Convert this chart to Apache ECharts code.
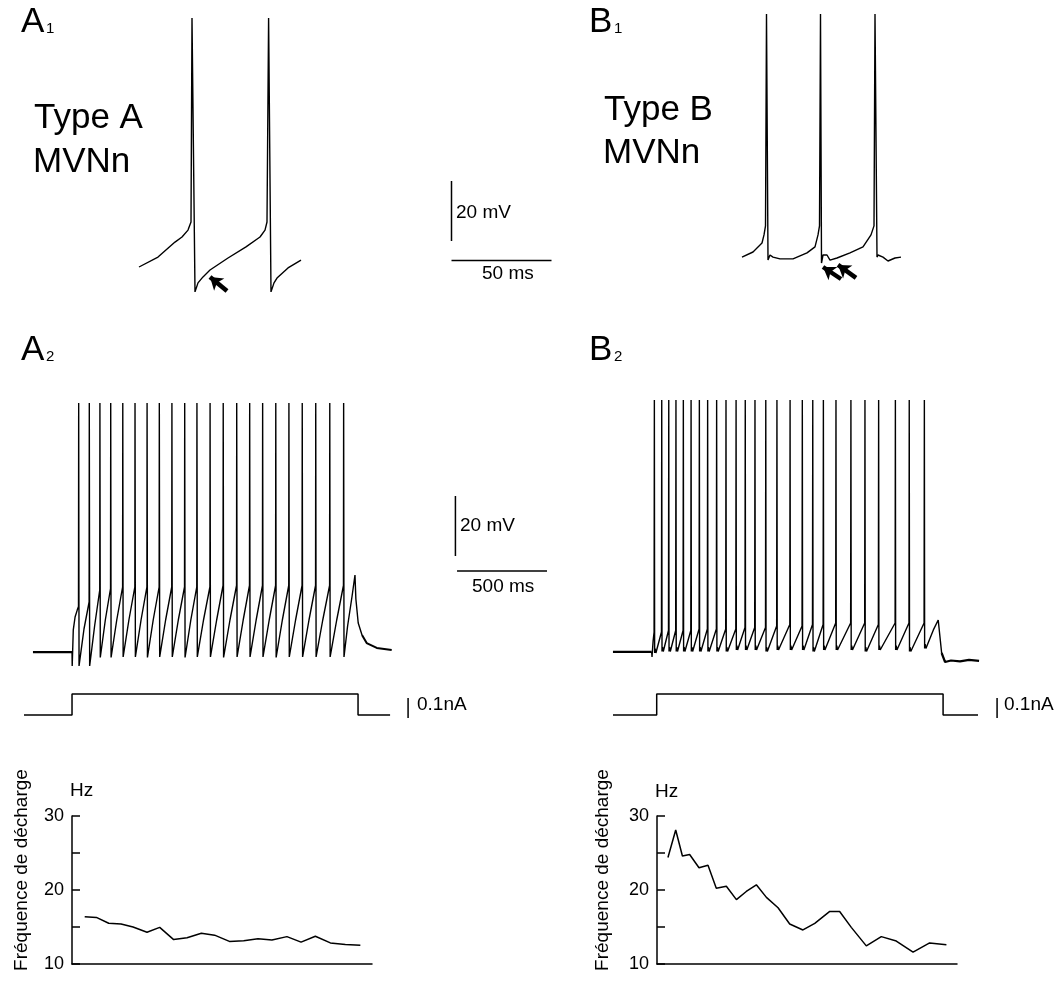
<!DOCTYPE html>
<html><head><meta charset="utf-8">
<script src="https://cdn.jsdelivr.net/npm/echarts/dist/echarts.min.js"></script>
<style>html,body{margin:0;padding:0;background:#fff}#c{width:1063px;height:982px}</style>
</head><body><div id="c"></div>
<script>
// ===== DATA (ms, mV, nA, Hz) =====
// A1 / B1 : single traces (ms, mV)
const a1Trace = [[19.5,-54],[29,-50.7],[37.5,-45.7],[41,-44],[44,-41.7],[45.5,-39],[46,29],[47.5,-62.3],[49,-59.3],[51.5,-57.3],[55,-55],[64,-51],[73,-47.3],[80,-44],[82.5,-41.7],[83.5,-39],[84.3,29],[85.5,-62.3],[87,-59.3],[88.5,-57.7],[94,-54.3],[100.5,-51.7]];
const a1Arrow = [[63.5,-62],[55,-57.3]];
const b1Trace = [[21,-50.7],[26.5,-49],[31,-46],[32,-43.3],[32.75,-40.3],[33.25,30.3],[34,-51.7],[35,-50],[36.5,-50.7],[40,-51.3],[46.5,-51.3],[53.5,-49.3],[57.5,-47.3],[59,-43.3],[59.75,-40.3],[60.25,30.3],[60.75,-52.7],[61.5,-50],[63.5,-50],[65,-51.7],[68.5,-51],[75,-49.3],[81.5,-47.3],[85.5,-43.3],[87,-40.3],[87.5,30.3],[88.5,-50.7],[89,-50],[91.5,-50.7],[94,-52],[97.5,-51],[100.5,-50.7]];
const b1Arrows = [[[70.5,-58],[61.5,-54]],[[78,-57.6],[69,-53.3]]];

// A2 : spike train
const a2Pre = [[72,-55.7],[289,-55.7]];
const a2Onset = [[289,-55.7],[290,-60.3],[296,-48.3],[306,-44],[318,-41.7]];
const a2Spikes = [326,385,444,504,571,639,706,774,844,915,983,1056,1129,1204,1276,1348,1421,1494,1568,1643,1721,1798];
const a2Knee = [-40.5,-39,-35,-34.5,-34,-34,-34,-34,-34,-34,-34,-34,-33.5,-33.5,-33.5,-33.5,-33.5,-33.5,-33.5,-33.5,-33.5,-33.5];
const a2Trough = [-60.3,-60.3,-57.5,-57.5,-57.3,-57.3,-57.5,-57.3,-57.3,-57.5,-57.3,-57.3,-57.5,-57.3,-57.3,-57.3,-57.5,-57.3,-57.3,-57.3,-57.3,-57.3];
const a2Mid = [-48,-47,-45,-45,-45,-45,-45,-45,-45,-45,-45,-45,-45,-45,-45,-45,-45,-45,-45,-45,-45];
const a2Peak = 27.3;
const a2Post = [[1820,-47],[1845,-37],[1861,-30],[1866,-38],[1879,-46],[1900,-50]];
const a2Tail = [[1900,-50],[1926,-52.7],[1982,-54.3],[2065,-55]];

// B2 : spike train
const b2Pre = [[72,-55.6],[287,-55.6]];
const b2Onset = [[287,-55.6],[289,-57.3],[295,-52]];
const b2Spikes = [302,343,382,422,463,506,552,598,648,700,756,807,861,921,983,1056,1124,1182,1241,1311,1394,1472,1548,1641,1718,1802];
const b2Knee = [-49,-49,-48.5,-48.5,-48.5,-48.5,-48,-48,-48,-48,-48,-47.5,-47.5,-47.5,-47,-46.5,-47,-46.5,-46.5,-46,-46,-46,-46.5,-46,-46,-46];
const b2Trough = [-56,-55.5,-55.5,-55.5,-55.5,-55.5,-55.5,-55.5,-55.5,-55.5,-55,-55,-55,-55.5,-55,-55,-55,-55.5,-55,-55,-55,-55.5,-55,-55,-55.5,-54.5];
const b2Adp = [-54.5,-54,-54,-54,-54,-54,-54,-54,-54,-54,-53.5,-53.5,-53.5,-54,-53.5,-53.5,-53.5,-54,-53.5,-53.5,-53.5,-54,-53.5,-53.5,-54,-53];
const b2Peak = 28.3;
const b2Post = [[1852,-48.3],[1879,-45],[1898,-56]];
const b2Tail = [[1898,-56],[1917,-59],[1950,-58.5],[2000,-58.8],[2050,-58.3],[2106,-58.6]];

// current steps (ms, nA)
const curA = [[22,0],[289,0],[289,0.105],[1878,0.105],[1878,0],[2056,0]];
const curB = [[72,0],[315,0],[315,0.105],[1906,0.105],[1906,0],[2100,0]];

// discharge frequency (ms, Hz)
const freqATime = [72,138,208,278,346,425,497,576,652,733,808,892,973,1054,1133,1218,1298,1379,1464,1549,1634];
const freqA = [16.4,16.3,15.5,15.4,15.0,14.3,14.95,13.3,13.55,14.15,13.9,13.05,13.15,13.4,13.25,13.7,12.95,13.75,12.85,12.65,12.55];
const freqBTime = [62,106,144,185,238,289,336,393,450,506,563,620,686,752,827,894,979,1035,1101,1186,1271,1356,1451,1545,1640];
const freqB = [24.4,28.1,24.6,24.8,23.0,23.35,20.25,20.5,18.7,19.8,20.7,19.0,17.6,15.4,14.6,15.5,17.1,17.1,14.95,12.45,13.7,13.1,11.6,12.85,12.6];
const freqTicks = [10,20,30];

// scale bars
const scaleA1 = {t:175.75, v:-45.3, mV:20, ms:50, vh:-51.8};
const scaleA2 = {t:2419, v:-23.7, mV:20, ms:500, vh:-28.7};
const barNA = 0.1;

// ===== BUILD =====
function trainA(onset, spikes, knees, troughs, mids, peak, post){
  const pts = onset.map(p=>p.slice());
  spikes.forEach((t,i)=>{
    pts.push([t-1,knees[i]],[t,peak],[t+2,troughs[i]]);
    if(i<spikes.length-1) pts.push([(t+spikes[i+1])/2, mids[i]]);
  });
  return pts.concat(post);
}
function trainB(onset, spikes, knees, troughs, adps, peak, post){
  const pts = onset.map(p=>p.slice());
  spikes.forEach((t,i)=>{
    pts.push([t-1.5,knees[i]],[t,peak],[t+1.5,troughs[i]],[t+4.5,adps[i]],[t+8.5,troughs[i]]);
  });
  return pts.concat(post);
}
const FONT = "'Liberation Sans', Arial, Helvetica, sans-serif";
const K = '#000';
function ln(gi, data, w){ return {type:'line', xAxisIndex:gi, yAxisIndex:gi, data, showSymbol:false, symbol:'none', silent:true, animation:false, lineStyle:{color:K, width:w||1.4}, z:3}; }
function arrowML(list){
  return {silent:true, symbol:['none','arrow'], symbolSize:12, animation:false,
    label:{show:false}, lineStyle:{color:K, width:4.5, type:'solid'},
    emphasis:{disabled:true},
    data:list.map(a=>[{coord:a[0]},{coord:a[1]}])};
}
const grids = [
  {left:100, top:0, width:460, height:300},
  {left:700, top:0, width:300, height:300},
  {left:20, top:380, width:540, height:300},
  {left:600, top:380, width:450, height:300},
  {left:20, top:675, width:540, height:60},
  {left:600, top:675, width:450, height:60},
  {left:72, top:816, width:300, height:148},
  {left:657, top:816, width:300, height:148}
].map(g=>Object.assign({containLabel:false, outerBoundsMode:'none'}, g));
const xr = [[0,230],[0,150],[0,3000],[0,2500],[0,3000],[0,2500],[0,1700],[0,1700]];
const yr = [[-65,35],[-65,35],[-65,35],[-65,35],[-0.1,0.2],[-0.1,0.2],[10,30],[10,30]];
const xAxis = xr.map((r,i)=> i<6 ? {gridIndex:i,type:'value',min:r[0],max:r[1],show:false} :
  {gridIndex:i,type:'value',min:r[0],max:r[1],axisLine:{show:true,onZero:false,lineStyle:{color:K,width:1.5}},axisTick:{show:false},axisLabel:{show:false},splitLine:{show:false}});
const yAxis = yr.map((r,i)=> i<6 ? {gridIndex:i,type:'value',min:r[0],max:r[1],show:false} :
  {gridIndex:i,type:'value',min:r[0],max:r[1],interval:5,
   axisLine:{show:true,onZero:false,lineStyle:{color:K,width:1.5}},
   axisTick:{show:true,inside:true,length:8,lineStyle:{color:K,width:1.5}},
   axisLabel:{show:true,color:K,fontSize:18,fontFamily:FONT,margin:8,formatter:v=>freqTicks.includes(v)?String(v):''},
   splitLine:{show:false}});

const a1 = ln(0, a1Trace); a1.markLine = arrowML([a1Arrow]);
const b1 = ln(1, b1Trace); b1.markLine = arrowML(b1Arrows);
const series = [
  a1,
  ln(0, [[scaleA1.t, scaleA1.v+scaleA1.mV],[scaleA1.t, scaleA1.v]], 1.5),
  ln(0, [[scaleA1.t, scaleA1.vh],[scaleA1.t+scaleA1.ms, scaleA1.vh]], 1.5),
  b1,
  ln(2, a2Pre, 2.2),
  ln(2, trainA(a2Onset, a2Spikes, a2Knee, a2Trough, a2Mid, a2Peak, a2Post)),
  ln(2, a2Tail, 2),
  ln(2, [[scaleA2.t, scaleA2.v+scaleA2.mV],[scaleA2.t, scaleA2.v]], 1.5),
  ln(2, [[scaleA2.t+9, scaleA2.vh],[scaleA2.t+9+scaleA2.ms, scaleA2.vh]], 1.5),
  ln(3, b2Pre, 2.2),
  ln(3, trainB(b2Onset, b2Spikes, b2Knee, b2Trough, b2Adp, b2Peak, b2Post)),
  ln(3, b2Tail, 2.2),
  ln(4, curA, 1.5),
  ln(4, [[2156,-0.015],[2156,-0.015+barNA]], 1.5),
  ln(5, curB, 1.5),
  ln(5, [[2206,-0.015],[2206,-0.015+barNA]], 1.5),
  ln(6, freqATime.map((t,i)=>[t,freqA[i]]), 1.5),
  ln(7, freqBTime.map((t,i)=>[t,freqB[i]]), 1.5)
];

function txt(text, x, y, size){
  return {type:'text', x, y, silent:true,
    style:{text, fill:K, font:size+'px '+FONT, fontSize:size, fontFamily:FONT,
      align:'left', textAlign:'left', verticalAlign:'middle', textVerticalAlign:'middle'}};
}
function rot(text, x, y, size){
  return {type:'text', x, y, rotation:Math.PI/2, silent:true,
    style:{text, fill:K, font:size+'px '+FONT, fontSize:size, fontFamily:FONT,
      align:'center', textAlign:'center', verticalAlign:'middle', textVerticalAlign:'middle'}};
}
const graphic = [
  txt('A',21,22.8,35), txt('1',46,29,15),
  txt('B',589,22.8,35), txt('1',614,29,15),
  txt('A',21,350.8,35), txt('2',46,357,15),
  txt('B',589,350.8,35), txt('2',614,357,15),
  txt('Type A',34,118.8,35), txt('MVNn',33,162.8,35),
  txt('Type B',604,110.8,35), txt('MVNn',603,153.8,35),
  txt('20 mV',456,213,19), txt('50 ms',482,274,19),
  txt('20 mV',460,526,19), txt('500 ms',472,587,19),
  txt('0.1nA',417,705,19), txt('0.1nA',1004,705,19),
  txt('Hz',70,791,19), txt('Hz',655,792,19),
  rot('Fréquence de décharge',22,870,19), rot('Fréquence de décharge',603,870,19)
];

const chart = echarts.init(document.getElementById('c'), null, {renderer:'canvas'});
chart.setOption({animation:false, backgroundColor:'#fff', textStyle:{fontFamily:FONT},
  grid:grids, xAxis, yAxis, series, graphic});
</script></body></html>
